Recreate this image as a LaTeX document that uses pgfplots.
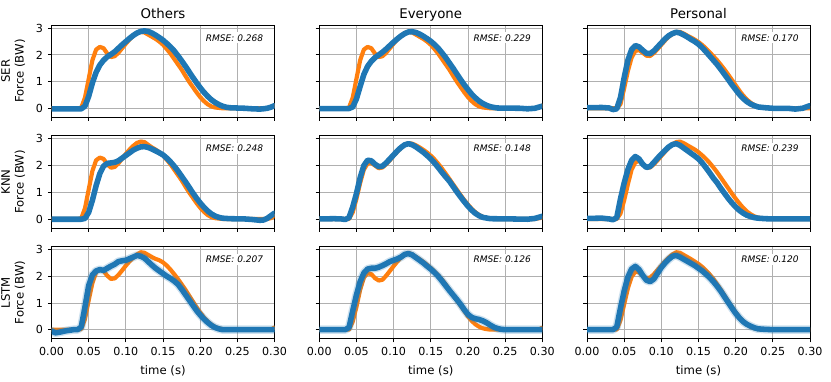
\documentclass[border=0pt]{standalone}
\usepackage{fontspec}
\setmainfont{DejaVu Sans}
\usepackage{pgfplots}
\pgfplotsset{compat=1.18}
\usepgfplotslibrary{groupplots}

\definecolor{tabblue}{HTML}{1F77B4}
\definecolor{taborange}{HTML}{FF7F0E}
\definecolor{gridgray}{HTML}{B0B0B0}

\pgfplotsset{
  panel/.style={
    width=160.6pt, height=66.5pt, scale only axis,
    xmin=0, xmax=0.3, ymin=-0.34, ymax=3.12,
    xtick={0,0.05,0.1,0.15,0.2,0.25,0.3},
    ytick={0,1,2,3},
    grid=major,
    grid style={color=gridgray, line width=0.6pt},
    axis line style={line width=0.6pt},
    tick align=outside, tick pos=left,
    major tick length=2.6pt,
    tick style={black, line width=0.6pt},
    /pgf/number format/assume math mode=true,
    ticklabel style={font=\fontsize{8}{9}\selectfont},
    x tick label style={/pgf/number format/.cd, fixed, fixed zerofill, precision=2, /tikz/.cd},
    label style={font=\fontsize{8.4}{10}\selectfont},
    ylabel style={align=center, at={(axis description cs:-0.096,0.5)}, anchor=south},
    title style={font=\fontsize{9.6}{11}\selectfont, text depth=0pt, yshift=-4.5pt},
  },
  truth/.style={color=taborange, line width=3pt, line join=round, line cap=round},
  pred/.style={color=tabblue, line width=4pt, line join=round, line cap=round},
  fuzz/.style={color=tabblue, line width=6pt, opacity=0.22, line join=round, line cap=round},
}
\newcommand{\rmse}[1]{\node[fill=white, inner sep=1.5pt, anchor=east, xshift=1.5pt,
  font=\fontsize{6.5}{7.5}\selectfont\itshape] at (rel axis cs:0.95,0.86) {RMSE: #1};}

\begin{document}
\begin{tikzpicture}
\begin{groupplot}[
  group style={group size=3 by 3, horizontal sep=32.2pt, vertical sep=13.2pt,
    xticklabels at=edge bottom, yticklabels at=edge left},
  panel,
]
% ---------------- SER ----------------
\nextgroupplot[title={Others}, ylabel={SER\\Force (BW)}]
\addplot[truth] coordinates {
(0,0) (0.035,0) (0.04,0.02) (0.045,0.4) (0.05,1.1) (0.055,1.8) (0.06,2.2) (0.065,2.3) (0.07,2.25) (0.075,2.05) (0.08,1.92) (0.085,1.95) (0.09,2.08) (0.095,2.25) (0.1,2.42) (0.105,2.58) (0.11,2.72) (0.115,2.82) (0.12,2.86) (0.125,2.84) (0.13,2.76) (0.135,2.68) (0.14,2.6) (0.145,2.5) (0.15,2.38) (0.155,2.22) (0.16,2.05) (0.165,1.85) (0.17,1.65) (0.175,1.45) (0.18,1.22) (0.185,1.0) (0.19,0.8) (0.195,0.6) (0.2,0.42) (0.205,0.27) (0.21,0.15) (0.215,0.07) (0.22,0.03) (0.23,0) (0.29,0) (0.295,0.03) (0.3,0.1)
};
\addplot[pred] coordinates {
(0,-0.02) (0.04,-0.02) (0.045,0.08) (0.05,0.45) (0.055,0.95) (0.06,1.35) (0.065,1.62) (0.07,1.8) (0.075,1.93) (0.08,2.02) (0.085,2.12) (0.09,2.25) (0.095,2.38) (0.1,2.5) (0.105,2.62) (0.11,2.73) (0.115,2.82) (0.12,2.88) (0.125,2.9) (0.13,2.88) (0.135,2.82) (0.14,2.74) (0.145,2.65) (0.15,2.55) (0.155,2.43) (0.16,2.3) (0.165,2.15) (0.17,1.97) (0.175,1.78) (0.18,1.58) (0.185,1.37) (0.19,1.16) (0.195,0.96) (0.2,0.77) (0.205,0.6) (0.21,0.45) (0.215,0.32) (0.22,0.22) (0.225,0.14) (0.23,0.08) (0.235,0.04) (0.24,0.02) (0.26,0) (0.27,-0.02) (0.28,-0.03) (0.285,-0.02) (0.29,0) (0.295,0.04) (0.3,0.1)
};
\rmse{0.268}

\nextgroupplot[title={Everyone}]
\addplot[truth] coordinates {
(0,0) (0.035,0) (0.04,0.02) (0.045,0.4) (0.05,1.1) (0.055,1.8) (0.06,2.2) (0.065,2.3) (0.07,2.25) (0.075,2.05) (0.08,1.92) (0.085,1.95) (0.09,2.08) (0.095,2.25) (0.1,2.42) (0.105,2.58) (0.11,2.72) (0.115,2.82) (0.12,2.86) (0.125,2.84) (0.13,2.76) (0.135,2.68) (0.14,2.6) (0.145,2.5) (0.15,2.38) (0.155,2.22) (0.16,2.05) (0.165,1.85) (0.17,1.65) (0.175,1.45) (0.18,1.22) (0.185,1.0) (0.19,0.8) (0.195,0.6) (0.2,0.42) (0.205,0.27) (0.21,0.15) (0.215,0.07) (0.22,0.03) (0.23,0) (0.29,0) (0.295,0.03) (0.3,0.1)
};
\addplot[pred] coordinates {
(0,-0.01) (0.04,-0.01) (0.045,0.05) (0.05,0.35) (0.055,0.82) (0.06,1.27) (0.065,1.57) (0.07,1.76) (0.075,1.9) (0.08,2.0) (0.085,2.1) (0.09,2.22) (0.095,2.35) (0.1,2.48) (0.105,2.6) (0.11,2.71) (0.115,2.8) (0.12,2.86) (0.125,2.87) (0.13,2.84) (0.135,2.78) (0.14,2.7) (0.145,2.61) (0.15,2.51) (0.155,2.39) (0.16,2.25) (0.165,2.08) (0.17,1.9) (0.175,1.7) (0.18,1.5) (0.185,1.29) (0.19,1.08) (0.195,0.88) (0.2,0.7) (0.205,0.53) (0.21,0.39) (0.215,0.27) (0.22,0.18) (0.225,0.11) (0.23,0.06) (0.235,0.03) (0.24,0.01) (0.27,0) (0.28,-0.02) (0.29,0) (0.3,0.08)
};
\rmse{0.229}

\nextgroupplot[title={Personal}]
\addplot[truth] coordinates {
(0,0) (0.04,0) (0.045,0.15) (0.05,0.75) (0.055,1.4) (0.06,1.9) (0.065,2.15) (0.07,2.18) (0.075,2.08) (0.08,1.97) (0.085,1.96) (0.09,2.07) (0.095,2.22) (0.1,2.38) (0.105,2.54) (0.11,2.68) (0.115,2.79) (0.12,2.86) (0.125,2.86) (0.13,2.8) (0.135,2.72) (0.14,2.65) (0.145,2.57) (0.15,2.48) (0.155,2.37) (0.16,2.24) (0.165,2.1) (0.17,1.95) (0.175,1.8) (0.18,1.63) (0.185,1.45) (0.19,1.26) (0.195,1.06) (0.2,0.86) (0.205,0.66) (0.21,0.48) (0.215,0.33) (0.22,0.21) (0.225,0.12) (0.23,0.06) (0.235,0.03) (0.24,0.01) (0.25,0) (0.3,0)
};
\addplot[pred] coordinates {
(0,0.02) (0.02,0.03) (0.03,0.01) (0.035,-0.05) (0.04,-0.02) (0.045,0.4) (0.05,1.15) (0.055,1.8) (0.06,2.2) (0.065,2.35) (0.07,2.3) (0.075,2.17) (0.08,2.06) (0.085,2.05) (0.09,2.15) (0.095,2.3) (0.1,2.45) (0.105,2.6) (0.11,2.72) (0.115,2.8) (0.12,2.85) (0.125,2.82) (0.13,2.75) (0.135,2.67) (0.14,2.58) (0.145,2.5) (0.15,2.4) (0.155,2.27) (0.16,2.12) (0.165,1.96) (0.17,1.8) (0.175,1.64) (0.18,1.46) (0.185,1.27) (0.19,1.08) (0.195,0.88) (0.2,0.7) (0.205,0.52) (0.21,0.37) (0.215,0.25) (0.22,0.16) (0.225,0.1) (0.23,0.05) (0.24,0.02) (0.25,0) (0.27,0) (0.28,-0.03) (0.29,0) (0.3,0.1)
};
\rmse{0.170}

% ---------------- KNN ----------------
\nextgroupplot[ylabel={KNN\\Force (BW)}]
\addplot[truth] coordinates {
(0,0) (0.035,0) (0.04,0.02) (0.045,0.4) (0.05,1.1) (0.055,1.8) (0.06,2.2) (0.065,2.3) (0.07,2.25) (0.075,2.05) (0.08,1.92) (0.085,1.95) (0.09,2.08) (0.095,2.26) (0.1,2.44) (0.105,2.6) (0.11,2.74) (0.115,2.85) (0.12,2.9) (0.125,2.88) (0.13,2.78) (0.135,2.68) (0.14,2.6) (0.145,2.5) (0.15,2.38) (0.155,2.22) (0.16,2.05) (0.165,1.85) (0.17,1.65) (0.175,1.45) (0.18,1.22) (0.185,1.0) (0.19,0.8) (0.195,0.6) (0.2,0.42) (0.205,0.27) (0.21,0.15) (0.215,0.07) (0.22,0.03) (0.23,0) (0.29,0) (0.295,0.03) (0.3,0.12)
};
\addplot[pred] coordinates {
(0,-0.01) (0.04,-0.01) (0.045,0.02) (0.05,0.25) (0.055,0.7) (0.06,1.25) (0.065,1.7) (0.07,1.98) (0.075,2.08) (0.08,2.1) (0.085,2.12) (0.09,2.18) (0.095,2.28) (0.1,2.38) (0.105,2.48) (0.11,2.58) (0.115,2.65) (0.12,2.7) (0.125,2.71) (0.13,2.68) (0.135,2.62) (0.14,2.55) (0.145,2.48) (0.15,2.4) (0.155,2.28) (0.16,2.14) (0.165,1.98) (0.17,1.8) (0.175,1.6) (0.18,1.4) (0.185,1.19) (0.19,0.98) (0.195,0.78) (0.2,0.6) (0.205,0.44) (0.21,0.3) (0.215,0.19) (0.22,0.11) (0.225,0.06) (0.23,0.03) (0.24,0.01) (0.26,0) (0.27,-0.02) (0.28,-0.05) (0.285,-0.04) (0.29,0.02) (0.295,0.12) (0.3,0.22)
};
\rmse{0.248}

\nextgroupplot
\addplot[truth] coordinates {
(0,0) (0.04,0) (0.045,0.25) (0.05,0.75) (0.055,1.35) (0.06,1.85) (0.065,2.08) (0.07,2.1) (0.075,2.0) (0.08,1.9) (0.085,1.93) (0.09,2.05) (0.095,2.2) (0.1,2.37) (0.105,2.52) (0.11,2.66) (0.115,2.78) (0.12,2.84) (0.125,2.82) (0.13,2.76) (0.135,2.68) (0.14,2.59) (0.145,2.49) (0.15,2.37) (0.155,2.23) (0.16,2.07) (0.165,1.89) (0.17,1.7) (0.175,1.5) (0.18,1.3) (0.185,1.1) (0.19,0.9) (0.195,0.71) (0.2,0.54) (0.205,0.38) (0.21,0.25) (0.215,0.15) (0.22,0.08) (0.225,0.04) (0.23,0.01) (0.24,0) (0.29,0) (0.3,0.05)
};
\addplot[pred] coordinates {
(0,0) (0.02,0.01) (0.03,0) (0.035,-0.02) (0.04,0.05) (0.045,0.45) (0.05,0.95) (0.055,1.55) (0.06,2.0) (0.065,2.2) (0.07,2.18) (0.075,2.05) (0.08,1.96) (0.085,1.98) (0.09,2.1) (0.095,2.25) (0.1,2.4) (0.105,2.55) (0.11,2.68) (0.115,2.78) (0.12,2.82) (0.125,2.78) (0.13,2.7) (0.135,2.6) (0.14,2.5) (0.145,2.38) (0.15,2.25) (0.155,2.1) (0.16,1.93) (0.165,1.75) (0.17,1.58) (0.175,1.42) (0.18,1.22) (0.185,1.02) (0.19,0.83) (0.195,0.65) (0.2,0.48) (0.205,0.33) (0.21,0.21) (0.215,0.12) (0.22,0.06) (0.23,0.01) (0.26,0) (0.28,-0.01) (0.29,0.02) (0.3,0.1)
};
\rmse{0.148}

\nextgroupplot
\addplot[truth] coordinates {
(0,0) (0.04,0) (0.045,0.2) (0.05,0.7) (0.055,1.3) (0.06,1.85) (0.065,2.12) (0.07,2.18) (0.075,2.05) (0.08,1.93) (0.085,1.93) (0.09,2.05) (0.095,2.2) (0.1,2.36) (0.105,2.52) (0.11,2.67) (0.115,2.8) (0.12,2.88) (0.125,2.9) (0.13,2.84) (0.135,2.76) (0.14,2.68) (0.145,2.6) (0.15,2.5) (0.155,2.38) (0.16,2.25) (0.165,2.1) (0.17,1.93) (0.175,1.75) (0.18,1.55) (0.185,1.35) (0.19,1.15) (0.195,0.95) (0.2,0.76) (0.205,0.58) (0.21,0.42) (0.215,0.28) (0.22,0.18) (0.225,0.1) (0.23,0.05) (0.24,0.01) (0.25,0) (0.3,0)
};
\addplot[pred] coordinates {
(0,0.02) (0.02,0.03) (0.03,0) (0.035,-0.03) (0.04,0.05) (0.045,0.75) (0.05,1.35) (0.055,1.85) (0.06,2.2) (0.065,2.34) (0.07,2.25) (0.075,2.05) (0.08,1.93) (0.085,1.97) (0.09,2.12) (0.095,2.28) (0.1,2.43) (0.105,2.57) (0.11,2.7) (0.115,2.79) (0.12,2.82) (0.125,2.76) (0.13,2.66) (0.135,2.56) (0.14,2.46) (0.145,2.36) (0.15,2.25) (0.155,2.1) (0.16,1.92) (0.165,1.73) (0.17,1.53) (0.175,1.36) (0.18,1.15) (0.185,0.96) (0.19,0.77) (0.195,0.6) (0.2,0.45) (0.205,0.32) (0.21,0.22) (0.215,0.14) (0.22,0.09) (0.225,0.05) (0.23,0.03) (0.24,0.01) (0.25,0) (0.3,0)
};
\rmse{0.239}

% ---------------- LSTM ----------------
\nextgroupplot[ylabel={LSTM\\Force (BW)}, xlabel={time (s)}]
\addplot[truth] coordinates {
(0,0) (0.035,0) (0.04,0.02) (0.045,0.4) (0.05,1.1) (0.055,1.75) (0.06,2.15) (0.065,2.25) (0.07,2.2) (0.075,2.02) (0.08,1.9) (0.085,1.92) (0.09,2.05) (0.095,2.22) (0.1,2.4) (0.105,2.56) (0.11,2.7) (0.115,2.82) (0.12,2.9) (0.125,2.88) (0.13,2.8) (0.135,2.72) (0.14,2.65) (0.145,2.6) (0.15,2.52) (0.155,2.4) (0.16,2.25) (0.165,2.08) (0.17,1.9) (0.175,1.7) (0.18,1.5) (0.185,1.28) (0.19,1.06) (0.195,0.84) (0.2,0.64) (0.205,0.46) (0.21,0.31) (0.215,0.19) (0.22,0.1) (0.225,0.05) (0.23,0.02) (0.24,0) (0.295,0) (0.3,0.08)
};
\addplot[fuzz] coordinates {
(0,-0.05) (0.005,-0.12) (0.01,-0.1) (0.015,-0.07) (0.02,-0.04) (0.025,-0.02) (0.03,0) (0.035,0) (0.04,0.1) (0.045,0.85) (0.05,1.65) (0.055,2.05) (0.06,2.2) (0.065,2.25) (0.07,2.22) (0.075,2.3) (0.08,2.38) (0.085,2.45) (0.09,2.55) (0.095,2.58) (0.1,2.6) (0.105,2.66) (0.11,2.72) (0.115,2.78) (0.12,2.75) (0.125,2.68) (0.13,2.55) (0.135,2.42) (0.14,2.3) (0.145,2.2) (0.15,2.1) (0.155,2.0) (0.16,1.92) (0.165,1.82) (0.17,1.7) (0.175,1.52) (0.18,1.32) (0.185,1.12) (0.19,0.92) (0.195,0.72) (0.2,0.55) (0.205,0.4) (0.21,0.27) (0.215,0.16) (0.22,0.08) (0.225,0.03) (0.23,0) (0.3,0)
};
\addplot[pred] coordinates {
(0,-0.05) (0.005,-0.12) (0.01,-0.1) (0.015,-0.07) (0.02,-0.04) (0.025,-0.02) (0.03,0) (0.035,0) (0.04,0.1) (0.045,0.85) (0.05,1.65) (0.055,2.05) (0.06,2.2) (0.065,2.25) (0.07,2.22) (0.075,2.3) (0.08,2.38) (0.085,2.45) (0.09,2.55) (0.095,2.58) (0.1,2.6) (0.105,2.66) (0.11,2.72) (0.115,2.78) (0.12,2.75) (0.125,2.68) (0.13,2.55) (0.135,2.42) (0.14,2.3) (0.145,2.2) (0.15,2.1) (0.155,2.0) (0.16,1.92) (0.165,1.82) (0.17,1.7) (0.175,1.52) (0.18,1.32) (0.185,1.12) (0.19,0.92) (0.195,0.72) (0.2,0.55) (0.205,0.4) (0.21,0.27) (0.215,0.16) (0.22,0.08) (0.225,0.03) (0.23,0) (0.3,0)
};
\rmse{0.207}

\nextgroupplot[xlabel={time (s)}]
\addplot[truth] coordinates {
(0,0) (0.04,0) (0.045,0.3) (0.05,0.85) (0.055,1.5) (0.06,1.95) (0.065,2.12) (0.07,2.08) (0.075,1.93) (0.08,1.84) (0.085,1.87) (0.09,2.02) (0.095,2.2) (0.1,2.38) (0.105,2.55) (0.11,2.7) (0.115,2.82) (0.12,2.88) (0.125,2.82) (0.13,2.73) (0.135,2.64) (0.14,2.54) (0.145,2.43) (0.15,2.31) (0.155,2.18) (0.16,2.04) (0.165,1.88) (0.17,1.7) (0.175,1.5) (0.18,1.3) (0.185,1.1) (0.19,0.9) (0.195,0.7) (0.2,0.5) (0.205,0.33) (0.21,0.2) (0.215,0.11) (0.22,0.05) (0.225,0.02) (0.23,0) (0.295,0) (0.3,0.07)
};
\addplot[fuzz] coordinates {
(0,0) (0.035,0) (0.04,0.08) (0.045,0.7) (0.05,1.3) (0.055,1.8) (0.06,2.12) (0.065,2.27) (0.07,2.3) (0.075,2.3) (0.08,2.34) (0.085,2.4) (0.09,2.47) (0.095,2.55) (0.1,2.6) (0.105,2.65) (0.11,2.72) (0.115,2.82) (0.12,2.85) (0.125,2.8) (0.13,2.7) (0.135,2.6) (0.14,2.5) (0.145,2.38) (0.15,2.27) (0.155,2.14) (0.16,2.0) (0.165,1.83) (0.17,1.65) (0.175,1.47) (0.18,1.3) (0.185,1.13) (0.19,0.95) (0.195,0.75) (0.2,0.57) (0.205,0.46) (0.21,0.41) (0.215,0.38) (0.22,0.33) (0.225,0.26) (0.23,0.17) (0.235,0.09) (0.24,0.04) (0.245,0.01) (0.25,0) (0.3,0)
};
\addplot[pred] coordinates {
(0,0) (0.035,0) (0.04,0.08) (0.045,0.7) (0.05,1.3) (0.055,1.8) (0.06,2.12) (0.065,2.27) (0.07,2.3) (0.075,2.3) (0.08,2.34) (0.085,2.4) (0.09,2.47) (0.095,2.55) (0.1,2.6) (0.105,2.65) (0.11,2.72) (0.115,2.82) (0.12,2.85) (0.125,2.8) (0.13,2.7) (0.135,2.6) (0.14,2.5) (0.145,2.38) (0.15,2.27) (0.155,2.14) (0.16,2.0) (0.165,1.83) (0.17,1.65) (0.175,1.47) (0.18,1.3) (0.185,1.13) (0.19,0.95) (0.195,0.75) (0.2,0.57) (0.205,0.46) (0.21,0.41) (0.215,0.38) (0.22,0.33) (0.225,0.26) (0.23,0.17) (0.235,0.09) (0.24,0.04) (0.245,0.01) (0.25,0) (0.3,0)
};
\rmse{0.126}

\nextgroupplot[xlabel={time (s)}]
\addplot[truth] coordinates {
(0,0) (0.04,0) (0.045,0.35) (0.05,0.95) (0.055,1.55) (0.06,1.98) (0.065,2.17) (0.07,2.15) (0.075,2.02) (0.08,1.93) (0.085,1.95) (0.09,2.08) (0.095,2.24) (0.1,2.4) (0.105,2.56) (0.11,2.7) (0.115,2.82) (0.12,2.9) (0.125,2.88) (0.13,2.8) (0.135,2.72) (0.14,2.64) (0.145,2.55) (0.15,2.46) (0.155,2.35) (0.16,2.22) (0.165,2.07) (0.17,1.9) (0.175,1.7) (0.18,1.5) (0.185,1.28) (0.19,1.06) (0.195,0.85) (0.2,0.65) (0.205,0.47) (0.21,0.32) (0.215,0.2) (0.22,0.11) (0.225,0.05) (0.23,0.02) (0.24,0) (0.3,0)
};
\addplot[fuzz] coordinates {
(0,0) (0.035,0) (0.04,0.1) (0.045,0.8) (0.05,1.45) (0.055,1.97) (0.06,2.27) (0.065,2.37) (0.07,2.25) (0.075,2.03) (0.08,1.85) (0.085,1.8) (0.09,1.9) (0.095,2.12) (0.1,2.33) (0.105,2.5) (0.11,2.64) (0.115,2.75) (0.12,2.78) (0.125,2.72) (0.13,2.64) (0.135,2.56) (0.14,2.48) (0.145,2.4) (0.15,2.3) (0.155,2.2) (0.16,2.08) (0.165,1.95) (0.17,1.8) (0.175,1.63) (0.18,1.44) (0.185,1.23) (0.19,1.02) (0.195,0.81) (0.2,0.61) (0.205,0.44) (0.21,0.3) (0.215,0.2) (0.22,0.13) (0.225,0.07) (0.23,0.03) (0.24,0.01) (0.25,0) (0.3,0)
};
\addplot[pred] coordinates {
(0,0) (0.035,0) (0.04,0.1) (0.045,0.8) (0.05,1.45) (0.055,1.97) (0.06,2.27) (0.065,2.37) (0.07,2.25) (0.075,2.03) (0.08,1.85) (0.085,1.8) (0.09,1.9) (0.095,2.12) (0.1,2.33) (0.105,2.5) (0.11,2.64) (0.115,2.75) (0.12,2.78) (0.125,2.72) (0.13,2.64) (0.135,2.56) (0.14,2.48) (0.145,2.4) (0.15,2.3) (0.155,2.2) (0.16,2.08) (0.165,1.95) (0.17,1.8) (0.175,1.63) (0.18,1.44) (0.185,1.23) (0.19,1.02) (0.195,0.81) (0.2,0.61) (0.205,0.44) (0.21,0.3) (0.215,0.2) (0.22,0.13) (0.225,0.07) (0.23,0.03) (0.24,0.01) (0.25,0) (0.3,0)
};
\rmse{0.120}
\end{groupplot}
\pgfresetboundingbox
\path[use as bounding box] ([xshift=-37.1pt,yshift=18pt]group c1r1.north west) rectangle ([xshift=15.1pt,yshift=-31pt]group c3r3.south east);
\end{tikzpicture}
\end{document}
